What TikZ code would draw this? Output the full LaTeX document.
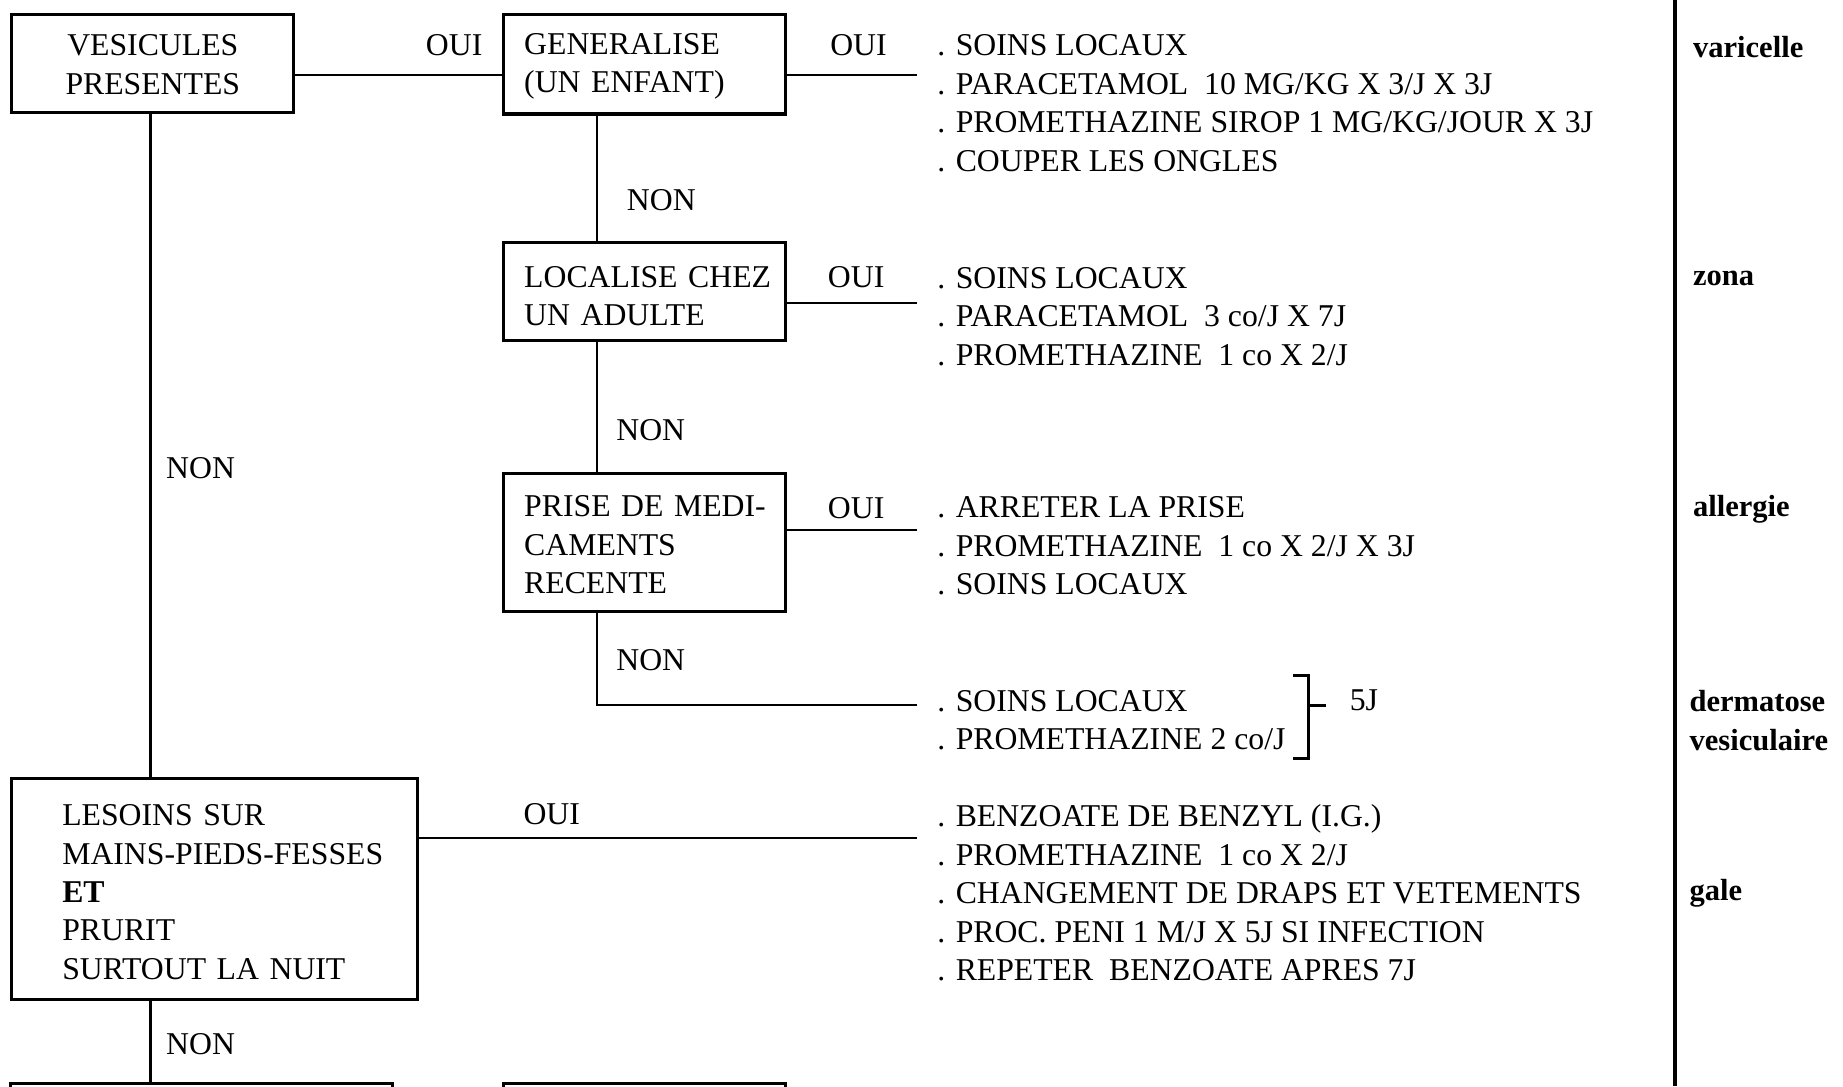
\documentclass[tikz,border=0pt]{standalone}
\usepackage{fontspec}
\setmainfont{Liberation Serif}
\newcommand\tpad[1]{\rule{0pt}{#1}}
\begin{document}
\begin{tikzpicture}[x=0.5pt,y=-0.5pt,
  box/.style={draw,line width=1.3pt,inner sep=0pt,font=\fontsize{13.5pt}{16.3pt}\selectfont},
  txt/.style={inner sep=0pt,font=\fontsize{13.5pt}{16.3pt}\selectfont,anchor=west},
  lst/.style={inner sep=0pt,font=\fontsize{13.5pt}{16.4pt}\selectfont,align=left,anchor=north west},
  dis/.style={inner sep=0pt,font=\fontsize{13pt}{16.4pt}\selectfont\bfseries,anchor=west,align=left},
  conn/.style={line width=1pt}]
\useasboundingbox (0,0) rectangle (1568,924);
\clip (0,0) rectangle (1568,924);
% boxes
\node[box,text width=100pt,align=center,minimum width=120pt,minimum height=42pt] (b1) at (130,54) {\tpad{10pt}VESICULES\\PRESENTES};
\node[box,text width=102pt,align=left,minimum width=120pt,minimum height=42.5pt] (b2) at (548,54.5) {\tpad{11pt}GENERALISE\\(UN~ENFANT)};
\node[box,text width=102pt,align=left,minimum width=120pt,minimum height=42pt] (b3) at (548,248) {\tpad{13pt}LOCALISE~CHEZ\\UN~ADULTE};
\node[box,text width=102pt,align=left,minimum width=120pt,minimum height=58.5pt] (b4) at (548,461.5) {\tpad{11pt}\mbox{PRISE DE MEDI-}\\CAMENTS\\RECENTE};
\node[box,text width=129.5pt,align=left,minimum width=172.5pt,minimum height=94pt] (b5) at (182.5,756) {\tpad{12pt}LESOINS~SUR\\\mbox{MAINS-PIEDS-FESSES}\\\textbf{ET}\\PRURIT\\SURTOUT~LA~NUIT};
\node[box,minimum width=162.5pt,minimum height=50pt] (b6) at (171.5,972) {};
\node[box,minimum width=120pt,minimum height=50pt] (b7) at (548,972) {};
% coordinates
\coordinate (o1) at (780,64);
\coordinate (o2) at (780,258);
\coordinate (o3) at (780,451);
\coordinate (o4) at (780,600);
\coordinate (o5) at (780,713);
\coordinate (v) at (508,0);
\coordinate (vl) at (128,0);
% connectors
\draw[conn] (b1.east |- o1) -- (b2.west |- o1);
\draw[conn] (b2.east |- o1) -- (o1);
\draw[conn] (b3.east |- o2) -- (o2);
\draw[conn] (b4.east |- o3) -- (o3);
\draw[conn] (b5.east |- o5) -- (o5);
\draw[conn] (b2.south -| v) -- (b3.north -| v);
\draw[conn] (b3.south -| v) -- (b4.north -| v);
\draw[conn] (b4.south -| v) |- (o4);
\draw[conn] (b1.south -| vl) -- (b5.north -| vl);
\draw[conn] (b5.south -| vl) -- (b6.north -| vl);
% right rule
\coordinate (rt) at (1425,0);
\coordinate (rb) at (1425,924);
\draw[line width=1.4pt] (rt) -- (rb);
% labels
\node[txt] (l1) at (362,38) {OUI};
\node[txt] (l2) at (706,38) {OUI};
\node[txt] (l3) at (704,236) {OUI};
\node[txt] (l4) at (704,432) {OUI};
\node[txt] (l5) at (445,693) {OUI};
\node[txt] (n1) at (533,170) {NON};
\node[txt] (n2) at (524,366) {NON};
\node[txt] (n3) at (524,562) {NON};
\node[txt] (n4) at (141,398) {NON};
\node[txt] (n5) at (141,888) {NON};
% treatment lists
\node[lst] (t1) at (797,29) {. SOINS LOCAUX\\. PARACETAMOL\ \ 10 MG/KG X 3/J X 3J\\. PROMETHAZINE SIROP 1 MG/KG/JOUR X 3J\\. COUPER LES ONGLES};
\node[lst] (t2) at (797,227) {. SOINS LOCAUX\\. PARACETAMOL\ \ 3 co/J X 7J\\. PROMETHAZINE\ \ 1 co X 2/J};
\node[lst] (t3) at (797,422) {. ARRETER LA PRISE\\. PROMETHAZINE\ \ 1 co X 2/J X 3J\\. SOINS LOCAUX};
\node[lst] (t4) at (797,587) {. SOINS LOCAUX\\. PROMETHAZINE 2 co/J};
\node[lst] (t5) at (797,684) {. BENZOATE DE BENZYL (I.G.)\\. PROMETHAZINE\ \ 1 co X 2/J\\. CHANGEMENT DE DRAPS ET VETEMENTS\\. PROC. PENI 1 M/J X 5J SI INFECTION\\. REPETER\ \ BENZOATE APRES 7J};
% bracket
\coordinate (k1) at (1100,575);
\coordinate (k2) at (1113,575);
\coordinate (k3) at (1113,645);
\coordinate (k4) at (1100,645);
\coordinate (k5) at (1113,600);
\coordinate (k6) at (1128,600);
\draw[line width=1.3pt] (k1) -- (k2) -- (k3) -- (k4);
\draw[line width=1.3pt] (k5) -- (k6);
\node[txt] (d) at (1148,596) {5J};
% diagnoses
\node[dis] (g1) at (1440,40) {varicelle};
\node[dis] (g2) at (1440,237) {zona};
\node[dis] (g3) at (1440,433) {allergie};
\node[dis] (g4) at (1437,613) {dermatose\\vesiculaire};
\node[dis] (g5) at (1437,760) {gale};
\end{tikzpicture}
\end{document}
